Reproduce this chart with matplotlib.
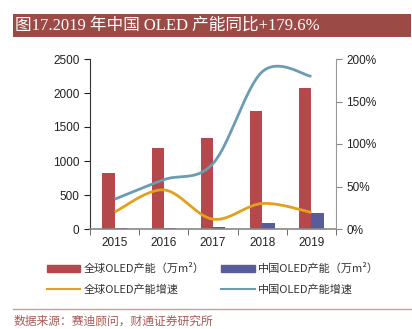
import matplotlib
matplotlib.use('Agg')
import matplotlib.pyplot as plt
from matplotlib.patches import Rectangle
from matplotlib.lines import Line2D
import numpy as np

plt.rcParams['font.family'] = ['Liberation Sans', 'Noto Sans CJK SC']

years = ['2015', '2016', '2017', '2018', '2019']
global_cap = [819, 1196, 1334, 1735, 2074]        # 万m²
china_cap = [10, 15, 35, 90, 235]                 # 万m²
global_growth = [20, 46, 11.5, 30, 19.5]          # %
china_growth = [35, 58, 77, 185, 179.6]           # %

red = '#b4484a'
navy = '#585c9a'
orange = '#e2a11c'
teal = '#6a9cb3'


def smooth(xs, ys, n=40):
    # excel-style smoothed line (catmull-rom bezier)
    xs = np.asarray(xs, float)
    ys = np.asarray(ys, float)
    px = np.concatenate([[xs[0]], xs, [xs[-1]]])
    py = np.concatenate([[ys[0]], ys, [ys[-1]]])
    out_x, out_y = [], []
    for i in range(1, len(px) - 2):
        p0 = np.array([px[i - 1], py[i - 1]])
        p1 = np.array([px[i], py[i]])
        p2 = np.array([px[i + 1], py[i + 1]])
        p3 = np.array([px[i + 2], py[i + 2]])
        c1 = p1 + (p2 - p0) / 6
        c2 = p2 - (p3 - p1) / 6
        t = np.linspace(0, 1, n)[:, None]
        pts = (1 - t) ** 3 * p1 + 3 * (1 - t) ** 2 * t * c1 + 3 * (1 - t) * t ** 2 * c2 + t ** 3 * p2
        out_x.extend(pts[:, 0])
        out_y.extend(pts[:, 1])
    return np.array(out_x), np.array(out_y)


fig = plt.figure(figsize=(4.12, 3.29), dpi=100)

# title bar
fig.patches.append(Rectangle((13 / 412, 1 - 37 / 329), 398 / 412, 23 / 329,
                             transform=fig.transFigure, facecolor='#9c4a46',
                             edgecolor='none'))
fig.text(15 / 412, 1 - 26 / 329, '图17.2019 年中国 OLED 产能同比+179.6%',
         color='white', fontsize=12, va='center', ha='left',
         family=['Liberation Serif', 'Noto Sans CJK SC'])

ax = fig.add_axes([90 / 412, 1 - 229 / 329, 246 / 412, 170 / 329])
x = np.arange(len(years))
w = 0.25
ax.bar(x - w / 2, global_cap, w, color=red, zorder=2)
ax.bar(x + w / 2, china_cap, w, color=navy, zorder=2)
ax.set_xlim(-0.5, len(years) - 0.5)
ax.set_ylim(0, 2500)
ax.set_yticks(range(0, 2501, 500))
ax.set_xticks(x)
ax.set_xticklabels(years)
ax.set_xticks(np.arange(-0.5, len(years), 1), minor=True)
ax.tick_params(axis='x', which='major', length=0, pad=6, labelsize=8.5, colors='#222222')
ax.tick_params(axis='x', which='minor', length=4, color='#555555', direction='out')
ax.tick_params(axis='y', length=4, labelsize=8.5, colors='#222222', direction='out')
ax.spines['top'].set_visible(False)
ax.spines['right'].set_visible(False)
ax.spines['left'].set_color('#333333')
ax.spines['bottom'].set_color('#888888')
ax.spines['bottom'].set_linewidth(1.2)

ax2 = ax.twinx()
sx, sy = smooth(x, china_growth)
ax2.plot(sx, sy, color=teal, lw=2, solid_capstyle='butt', zorder=3)
sx, sy = smooth(x, global_growth)
ax2.plot(sx, sy, color=orange, lw=2, solid_capstyle='butt', zorder=3)
ax2.set_ylim(0, 200)
ax2.set_yticks(range(0, 201, 50))
ax2.set_yticklabels([f'{v}%' for v in range(0, 201, 50)])
ax2.tick_params(axis='y', length=4, labelsize=8.5, colors='#222222', color='#888888')
for s in ['top', 'left', 'bottom']:
    ax2.spines[s].set_visible(False)
ax2.spines['right'].set_color('#999999')
ax2.set_xlim(-0.5, len(years) - 0.5)

# legend, filled column by column
handles = [Rectangle((0, 0), 1, 1, color=red), Line2D([], [], color=orange, lw=1.5),
           Rectangle((0, 0), 1, 1, color=navy), Line2D([], [], color=teal, lw=1.5)]
labels = ['全球OLED产能（万m²）', '全球OLED产能增速', '中国OLED产能（万m²）', '中国OLED产能增速']
leg = fig.legend(handles, labels, ncol=2, loc='center left',
                 bbox_to_anchor=(37 / 412, 1 - 279 / 329), frameon=False,
                 handlelength=3.0, handleheight=0.6, columnspacing=1.5,
                 handletextpad=0.3, labelspacing=0.9,
                 prop={'family': ['Noto Sans CJK SC', 'DejaVu Sans'], 'size': 8})
for t in leg.get_texts():
    t.set_color('#333333')

fig.add_artist(Line2D([13 / 412, 411 / 412], [1 - 309 / 329, 1 - 309 / 329],
                      transform=fig.transFigure, color='#d09a96', lw=1))
fig.text(14 / 412, 1 - 321 / 329, '数据来源：赛迪顾问，财通证券研究所', fontsize=8.5,
         color='#a85a56', va='center', ha='left',
         family=['Noto Sans CJK SC', 'DejaVu Sans'])

fig.savefig('out.png', dpi=100)
